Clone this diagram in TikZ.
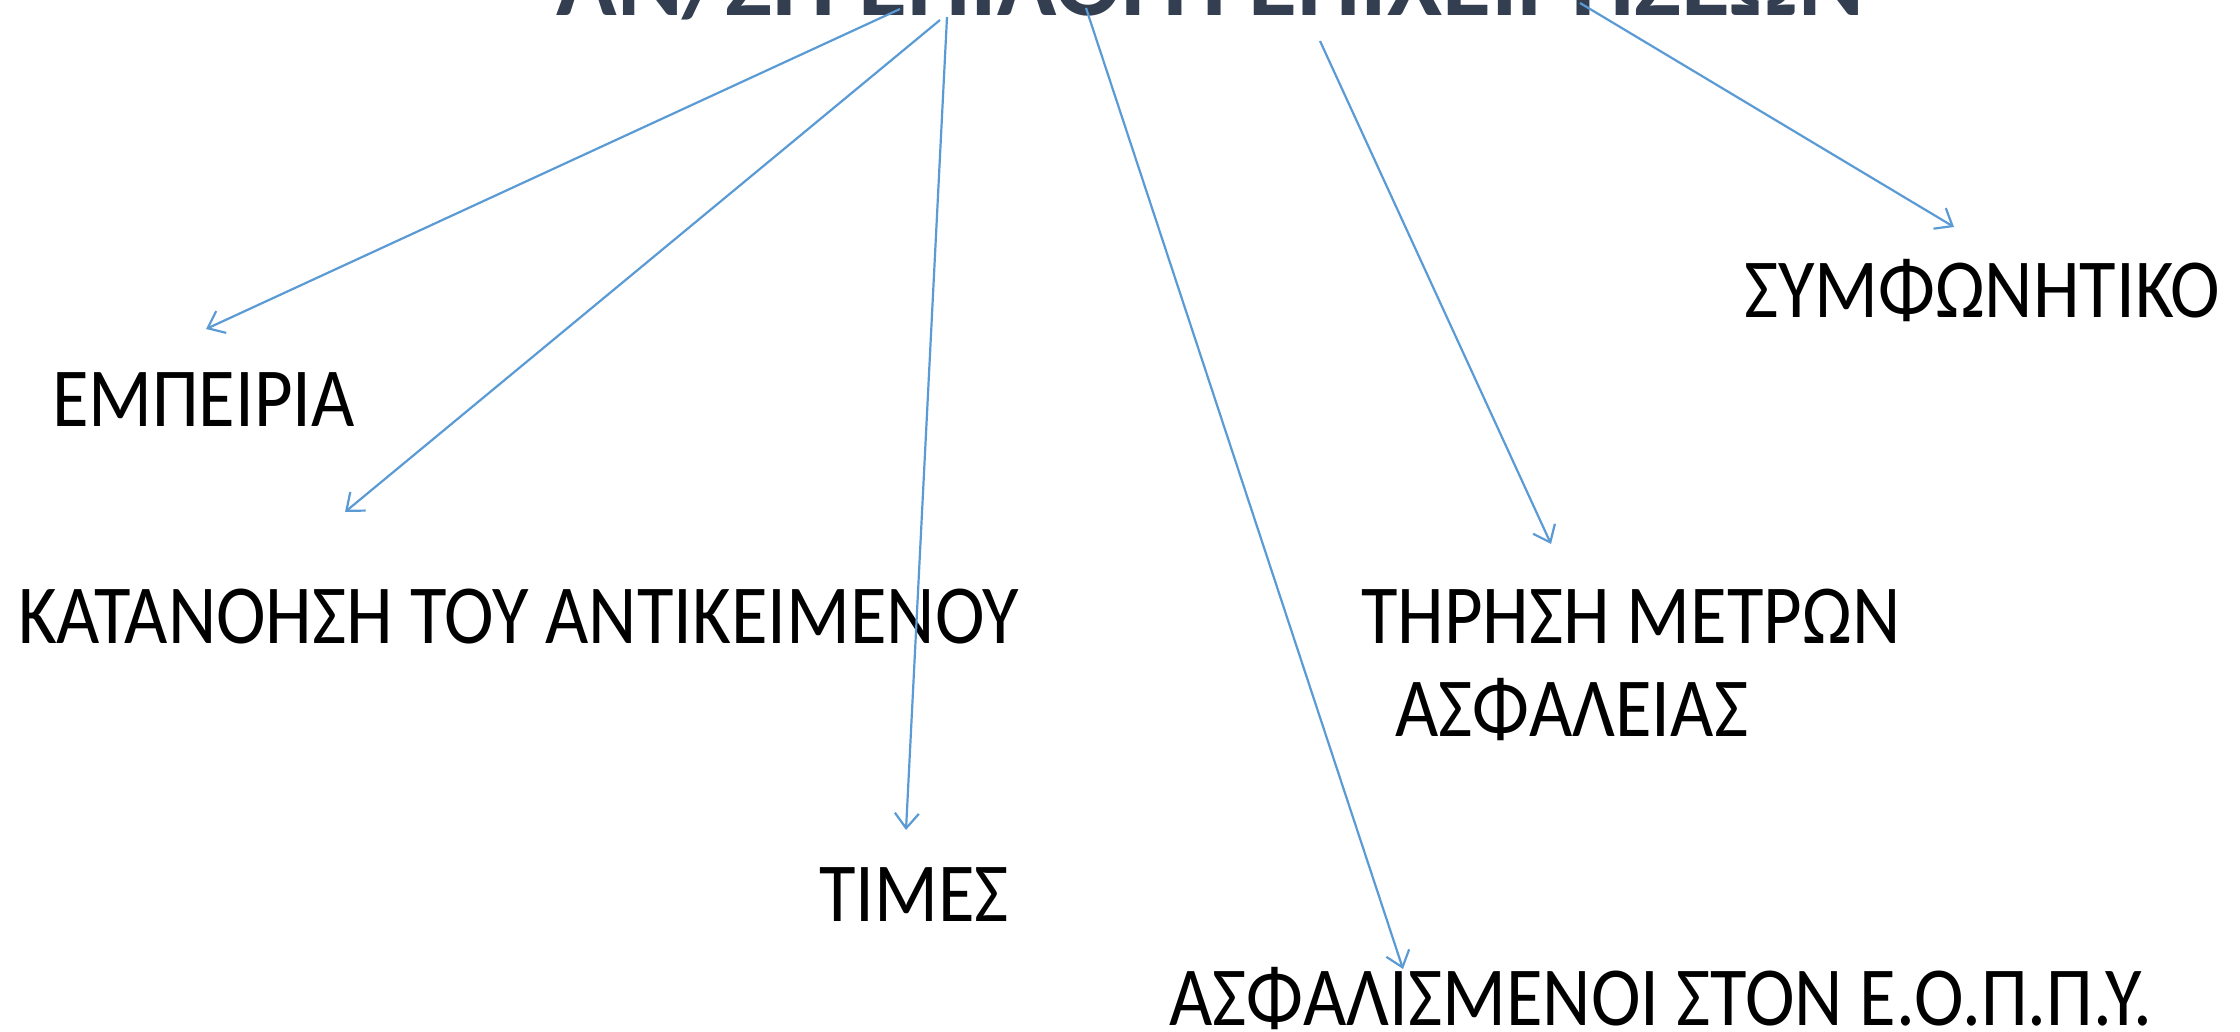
\documentclass[tikz,border=0pt]{standalone}
\usepackage{fontspec}
\setmainfont{Carlito}
\newfontfamily\labelfont[FakeStretch=0.89]{Carlito}
\usetikzlibrary{arrows.meta}
\definecolor{arrowblue}{HTML}{5B9BD5}
\definecolor{titleslate}{HTML}{333F50}
\tikzset{
  label text/.style={inner sep=0pt, outer sep=0pt, anchor=base west, font=\labelfont\fontsize{84}{93}\selectfont, text=black},
  link/.style={draw=arrowblue, line width=2.2pt, -{Straight Barb[length=15pt,width=24pt,line width=2.2pt]}},
}
\begin{document}
\begin{tikzpicture}[x=1pt,y=-1pt]
\useasboundingbox (0,0) rectangle (2240,1031);
\fill[white] (0,0) rectangle (2240,1031);
\clip (0,0) rectangle (2240,1031);
% title (mostly above the visible area)
\node[inner sep=0pt, anchor=base, text=titleslate, font=\fontsize{100}{110}\selectfont\bfseries] (title) at (1210,15) {ΑΝ/ΣΗ ΕΠΙΛΟΓΗ ΕΠΙΧΕΙΡΗΣΕΩΝ};
% labels
\node[label text] (symf) at (1744,317) {ΣΥΜΦΩΝΗΤΙΚΟ};
\node[label text] (emp) at (52,426) {ΕΜΠΕΙΡΙΑ};
\node[label text] (kat) at (18,643) {ΚΑΤΑΝΟΗΣΗ ΤΟΥ ΑΝΤΙΚΕΙΜΕΝΟΥ};
\node[label text, align=left] (tir) at (1361,736) {ΤΗΡΗΣΗ ΜΕΤΡΩΝ\\\hspace*{34pt}ΑΣΦΑΛΕΙΑΣ};
\node[label text] (tim) at (819,921) {ΤΙΜΕΣ};
\node[label text] (asf) at (1169,1025) {ΑΣΦΑΛΙΣΜΕΝΟΙ ΣΤΟΝ Ε.Ο.Π.Π.Υ.};
% connector ends
\coordinate (s1) at (900,9);   \coordinate (e1) at (206,329);
\coordinate (s2) at (940,20);  \coordinate (e2) at (345,512);
\coordinate (s3) at (947,17);  \coordinate (e3) at (906,830);
\coordinate (s4) at (1086,8);  \coordinate (e4) at (1403,969);
\coordinate (s5) at (1320,41); \coordinate (e5) at (1551,544);
\coordinate (s6) at (1580,3);  \coordinate (e6) at (1954,227);
\draw[link] (s1) -- (e1);
\draw[link] (s2) -- (e2);
\draw[link] (s3) -- (e3);
\draw[link] (s4) -- (e4);
\draw[link] (s5) -- (e5);
\draw[link] (s6) -- (e6);
\end{tikzpicture}
\end{document}
